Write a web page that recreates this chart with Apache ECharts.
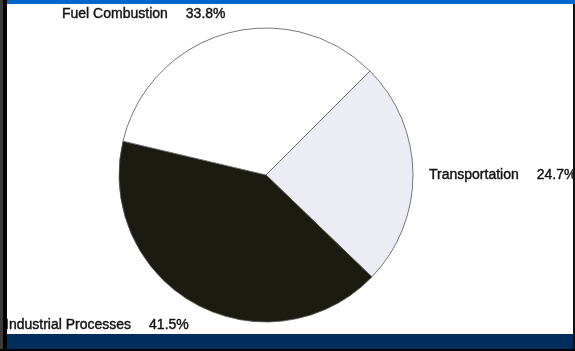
<!DOCTYPE html>
<html>
  <head>
    <meta charset="utf-8">
    <title>Emissions by source</title>
    <style>
      body { margin: 0; background: #fff; }
      #wrap { position: relative; width: 575px; height: 351px; overflow: hidden; }
      #container { position: absolute; left: 0; top: 0; width: 575px; height: 351px; }
      .bar { position: absolute; }
    </style>
  </head>
  <body>
    <div id="wrap">
      <div id="container"></div>
      <div class="bar" style="left:0;top:0;width:3px;height:351px;background:#3a3a3a"></div>
      <div class="bar" style="left:3px;top:0;width:4px;height:351px;background:#000"></div>
      <div class="bar" style="left:7px;top:0;width:568px;height:4px;background:#0066cc"></div>
      <div class="bar" style="left:573px;top:4px;width:2px;height:347px;background:#111"></div>
      <div class="bar" style="left:7px;top:334px;width:566px;height:15px;background:#002e5c"></div>
      <div class="bar" style="left:0;top:349px;width:575px;height:2px;background:#000"></div>
    </div>
    <script src="https://cdn.jsdelivr.net/npm/echarts@6/dist/echarts.min.js"></script>
    <script type="text/javascript">
      // clockwise from the upper-right edge
      var categories = ['Transportation', 'Industrial Processes', 'Fuel Combustion'];
      var shares = [24.7, 41.5, 33.8];
      var colors = ['#ececf4', '#1c1b12', '#ffffff'];

      // where each label sits (left edge, vertical middle)
      var labelPos = [[429, 175], [5, 325], [62, 14]];

      var dom = document.getElementById('container');
      var myChart = echarts.init(dom);

      var data = categories.map(function (name, i) {
        return { name: name, value: shares[i], itemStyle: { color: colors[i] } };
      });

      var font = 'Liberation Sans, Arial, sans-serif';
      var txt = { fontFamily: font, fontSize: 14, color: '#111', textBorderColor: '#111', textBorderWidth: 0.4 };

      var option = {
        animation: false,
        series: [
          {
            type: 'pie',
            center: [266, 175],
            radius: 147,
            startAngle: 45,
            clockwise: true,
            data: data,
            itemStyle: { borderColor: '#555', borderWidth: 0.8 },
            emphasis: { disabled: true },
            labelLine: { show: false },
            label: {
              show: true,
              position: 'outside',
              overflow: 'none',
              width: 300,
              formatter: function (p) {
                return '{n|' + p.name + '}{v|' + p.value.toFixed(1) + '%}';
              },
              rich: {
                n: txt,
                v: Object.assign({}, txt, { padding: [0, 0, 0, 18] })
              }
            },
            labelLayout: function (params) {
              var pos = labelPos[params.dataIndex];
              return { x: pos[0], y: pos[1], align: 'left', verticalAlign: 'middle' };
            }
          }
        ]
      };

      myChart.setOption(option);
    </script>
  </body>
</html>
